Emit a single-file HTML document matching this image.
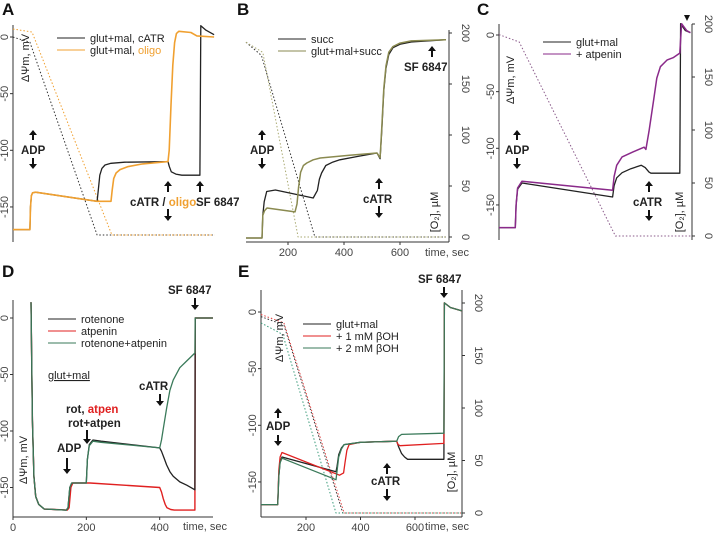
<!DOCTYPE html>
<html><head><meta charset="utf-8"><style>
body{margin:0;background:#fff}
svg{display:block;font-family:"Liberation Sans",Arial,sans-serif}
.tk{font-size:11px;fill:#444}
.lb{font-size:11px;fill:#222}
.b{font-weight:bold;font-size:11.5px;fill:#222}
.pl{font-weight:bold;font-size:17px;fill:#111}
</style></head><body>
<svg id="fig" width="716" height="536" viewBox="0 0 716 536"></svg>
<script>
// ===== Panel A data (time s, mV / µM) =====
const aBlackT=[50,106,108,111,115,125,329,333,338,345,355,375,420,564,568,575,590,610,670,673,690,717];
const aBlackV=[-170,-170,-150,-140,-137.5,-137,-145,-135,-122,-116,-113,-111.5,-110.5,-110,-114,-119,-121,-122,-122,10,6,2];
const aOrangeT=[50,106,108,111,115,125,329,375,379,384,392,405,430,480,564,568,574,580,586,592,600,640,660,717];
const aOrangeV=[-170,-170,-150,-140,-137.5,-137,-145,-145,-135,-125,-120,-117,-114.5,-112,-110,-100,-60,-25,-5,3,5,4,1,0];
const aBlackO2T=[50,106,329,717];
const aBlackO2=[194,189,0,0];
const aOrangeO2T=[50,113,378,717];
const aOrangeO2=[202,199,0,0];
// ===== Panel B =====
const bBlackT=[50,107,110,115,124,155,290,305,312,320,335,360,385,450,518,529,535,542,550,560,575,600,640,764];
const bBlackV=[-170,-170,-150,-138,-129,-127.6,-134.7,-128,-118,-112.6,-106,-103,-101,-98,-95,-100,-75,-40,-20,-8,-2,1,3,5];
const bOliveT=[50,107,110,116,125,225,232,238,245,255,267,290,315,420,518,529,535,542,550,560,575,600,640,764];
const bOliveV=[-170,-170,-150,-146,-143.5,-147,-140,-125,-112,-106,-103.8,-101,-99.4,-97,-95,-99,-72,-38,-18,-6,-1,2,4,5];
const bBlackO2T=[50,105,296,764];
const bBlackO2=[191,178,0,0];
const bOliveO2T=[50,110,236,764];
const bOliveO2=[191,181,0,0];
const bTicksX=[200,400,600];
const o2Ticks=[0,50,100,150,200];
// ===== Panel C =====
const cBlackT=[50,113,116,122,139,489,495,505,526,560,600,615,630,637,749,752,770,790];
const cBlackV=[-170,-170,-150,-136,-130.6,-143,-133,-126,-121.5,-118,-115,-117,-121,-122,-122,10,4,2];
const cPurpleT=[50,113,116,122,139,489,495,505,526,570,611,618,630,648,660,674,700,723,749,756,775,790];
const cPurpleV=[-170,-170,-150,-135,-129,-137,-125,-115,-107.6,-103,-99,-101,-85,-57,-38,-28,-22,-20,-16,10,4,2];
const cO2T=[50,128,500,790];
const cO2=[190,183,0,0];
// ===== Panel D =====
const dBlackT=[49,53,57,62,70,85,145,150,155,160,200,203,208,218,240,400,405,412,419,428,437,455,474,496,497,545];
const dBlackV=[14,-90,-140,-158,-165,-169,-170,-168,-150,-146,-146,-125,-112,-108,-109,-115,-118,-124,-130,-136,-140,-145,-148,-152,0,0];
const dRedT=[49,53,57,62,70,85,148,153,158,163,210,400,405,410,415,420,430,440,496,497,545];
const dRedV=[14,-90,-140,-158,-165,-169,-170,-168,-150,-146,-146,-150,-154,-160,-165,-168,-169.5,-170,-170,0,0];
const dGreenT=[49,53,57,62,70,85,145,150,155,160,200,203,208,218,240,400,405,410,419,428,437,455,474,496,497,545];
const dGreenV=[14,-90,-140,-158,-165,-169,-170,-168,-150,-146,-146,-125,-113,-109,-110,-115,-108,-98,-80,-64,-55,-44,-38,-31,0,0];
const dTicksX=[0,200,400];
const mvTicks=[0,-50,-100,-150];
// ===== Panel E =====
const eBlackT=[35,96,100,105,112,310,314,320,330,340,400,533,540,551,562,573,706,708,730,772];
const eBlackV=[-170,-170,-145,-132,-128,-141,-136,-126,-120,-117,-115,-114,-119,-125,-128,-130,-130,8,4,1];
const eRedT=[35,96,100,105,112,323,338,343,350,358,400,533,538,545,706,708,730,772];
const eRedV=[-170,-170,-140,-128,-124,-144,-142,-133,-122,-117,-115,-114,-117,-118,-116,8,4,1];
const eGreenT=[35,96,100,105,112,310,314,320,330,340,400,533,540,551,706,708,730,772];
const eGreenV=[-170,-170,-145,-133,-129,-148,-140,-128,-121,-117,-115,-114,-110,-108,-107,8,4,1];
const eBlackO2T=[35,119,335,772];
const eBlackO2=[187,179,0,0];
const eRedO2T=[35,119,340,772];
const eRedO2=[189,181,0,0];
const eGreenO2T=[35,115,310,772];
const eGreenO2=[181,170,0,0];

const NS="http://www.w3.org/2000/svg";
const svg=document.getElementById('fig');
function el(tag,attrs,parent){const e=document.createElementNS(NS,tag);for(const k in attrs)e.setAttribute(k,attrs[k]);(parent||svg).appendChild(e);return e;}
function series(ts,vs,X,Y,color,w,dash,name){
  const pts=ts.map((t,i)=>X(t).toFixed(1)+','+Y(vs[i]).toFixed(1)).join(' ');
  const p=el('polyline',{points:pts,fill:'none',stroke:color,'stroke-width':w,'stroke-dasharray':dash||'none','stroke-linejoin':'round'});
  
  
}
function text(x,y,s,cls,name,extra){const t=el('text',Object.assign({x:x,y:y,class:cls},extra||{}));t.textContent=s;
  
  return t;}
function rtext(x,y,s,cls,name){return text(x,y,s,cls,name,{transform:'rotate(-90 '+x+' '+y+')','text-anchor':'middle'});}
function ln(x1,y1,x2,y2,name,c){const l=el('line',{x1,y1,x2,y2,stroke:c||'#333','stroke-width':1});
  
  }
function arrow(x,y1,y2,name){
  const g=el('g',{});
  
  
  const d=y2>y1?1:-1;
  el('line',{x1:x,y1:y1,x2:x,y2:y2-d*4,stroke:'#111','stroke-width':2},g);
  el('polygon',{points:`${x-4},${y2-d*5} ${x+4},${y2-d*5} ${x},${y2}`,fill:'#111'},g);
}
function leftAxis(x,yTop,yBot,Y,ticks,name){
  ln(x,yTop,x,yBot,name);
  ticks.forEach(v=>{ln(x-3,Y(v),x,Y(v),name+'-tick');rtext(x-5,Y(v),String(v),'tk',name+'-label');});
}
function rightAxis(x,yTop,yBot,Y,ticks,name){
  ln(x,yTop,x,yBot,name);
  ticks.forEach(v=>{ln(x,Y(v),x+3,Y(v),name+'-tick');
    text(x+13,Y(v),String(v),'tk',name+'-label',{transform:'rotate(90 '+(x+13)+' '+Y(v)+')','text-anchor':'middle'});});
}
function bottomAxis(y,x1,x2,X,ticks,name){
  ln(x1,y,x2,y,name);
  ticks.forEach(t=>{ln(X(t),y,X(t),y+3,name+'-tick');text(X(t),y+14,String(t),'tk',name+'-label',{'text-anchor':'middle'});});
}
function legend(x,y,items,name){
  items.forEach((it,i)=>{ln(x,y+i*12,x+28,y+i*12,name+'-line',it[1]);
    const t=text(x+33,y+i*12+4,'','lb',name+'-entry');
    it[0].forEach(seg=>{const s=el('tspan',{fill:seg[1]||'#222'},t);s.textContent=seg[0];});});
}
// ---------- Panel A ----------
{const X=t=>13+(t-50)*202/670, Y=v=>37-1.133*v, O=c=>235-1.02*c;
 text(2,15,'A','pl','panel-a-label');
 leftAxis(13,25,242,Y,mvTicks,'a-y-axis');
 series(aBlackO2T,aBlackO2,X,O,'#333',1,'1.5,2','a-o2-black');
 series(aOrangeO2T,aOrangeO2,X,O,'#f0a030',1,'1.5,2','a-o2-orange');
 series(aBlackT,aBlackV,X,Y,'#222',1.3,null,'a-black-trace');
 series(aOrangeT,aOrangeV,X,Y,'#f0a030',1.6,null,'a-orange-trace');
 legend(57,38,[[[['glut+mal, cATR']],'#222'],[[['glut+mal, '],['oligo','#f0a030']],'#f0a030']],'a-legend');
 rtext(29,58,'ΔΨm, mV','lb','a-y-title');
 arrow(33,140,130,'a-adp-arrow-up');text(21,154,'ADP','b','a-adp-label');arrow(33,158,169,'a-adp-arrow-down');
 arrow(168,192,181,'a-catr-arrow-up');
 const t=text(130,206,'','b','a-catr-oligo-label');
 [['cATR / ','#222'],['oligo','#f0a030']].forEach(s=>{const sp=el('tspan',{fill:s[1]},t);sp.textContent=s[0];});
 arrow(168,209,221,'a-catr-arrow-down');
 arrow(200,192,181,'a-sf-arrow');text(196,206,'SF 6847','b','a-sf-label');
}
// ---------- Panel B ----------
{const X=t=>288+(t-200)*0.28, Y=v=>238-(v+170)*1.133, O=c=>237-1.02*c;
 text(237,15,'B','pl','panel-b-label');
 bottomAxis(242,246,449,X,bTicksX,'b-x-axis');
 rightAxis(449,30,242,O,o2Ticks,'b-o2-axis');
 series(bBlackO2T,bBlackO2,X,O,'#333',1,'1.5,2','b-o2-black');
 series(bOliveO2T,bOliveO2,X,O,'#a8a870',1,'1.5,2','b-o2-olive');
 series(bBlackT,bBlackV,X,Y,'#222',1.3,null,'b-succ-trace');
 series(bOliveT,bOliveV,X,Y,'#8a8a50',1.5,null,'b-gmsucc-trace');
 legend(278,39,[[[['succ']],'#222'],[[['glut+mal+succ']],'#8a8a50']],'b-legend');
 rtext(438,212,'[O₂], µM','lb','b-o2-title');
 text(425,256,'time, sec','tk','b-x-title');
 arrow(262,140,130,'b-adp-arrow-up');text(250,154,'ADP','b','b-adp-label');arrow(262,158,169,'b-adp-arrow-down');
 arrow(379,189,178,'b-catr-arrow-up');text(363,203,'cATR','b','b-catr-label');arrow(379,206,218,'b-catr-arrow-down');
 arrow(432,57,46,'b-sf-arrow');text(404,71,'SF 6847','b','b-sf-label');
}
// ---------- Panel C ----------
{const X=t=>499+(t-50)*0.2587, Y=v=>35-1.133*v, O=c=>236-1.06*c;
 text(477,15,'C','pl','panel-c-label');
 leftAxis(499,24,240,Y,mvTicks,'c-y-axis');
 rightAxis(692,24,240,O,o2Ticks,'c-o2-axis');
 series(cO2T,cO2,X,O,'#8a5a8a',1,'1.5,2','c-o2-trace');
 series(cBlackT,cBlackV,X,Y,'#222',1.3,null,'c-black-trace');
 series(cPurpleT,cPurpleV,X,Y,'#8a2a8a',1.5,null,'c-purple-trace');
 legend(543,42,[[[['glut+mal']],'#222'],[[['+ atpenin']],'#8a2a8a']],'c-legend');
 rtext(514,80,'ΔΨm, mV','lb','c-y-title');
 rtext(683,212,'[O₂], µM','lb','c-o2-title');
 arrow(517,140,130,'c-adp-arrow-up');text(505,154,'ADP','b','c-adp-label');arrow(517,158,169,'c-adp-arrow-down');
 arrow(649,192,181,'c-catr-arrow-up');text(633,206,'cATR','b','c-catr-label');arrow(649,210,221,'c-catr-arrow-down');
 const m=el('polygon',{points:'684,15 690,15 687,21',fill:'#111'});
 
 
}
// ---------- Panel D ----------
{const X=t=>13+t*0.3667, Y=v=>318-1.13*v;
 text(2,277,'D','pl','panel-d-label');
 leftAxis(13,300,517,Y,mvTicks,'d-y-axis');
 bottomAxis(517,13,213,X,dTicksX,'d-x-axis');
 series(dRedT,dRedV,X,Y,'#e02020',1.4,null,'d-atpenin-trace');
 series(dBlackT,dBlackV,X,Y,'#222',1.3,null,'d-rotenone-trace');
 series(dGreenT,dGreenV,X,Y,'#3a7a5a',1.3,null,'d-rot-atpen-trace');
 legend(48,319,[[[['rotenone']],'#222'],[[['atpenin']],'#e02020'],[[['rotenone+atpenin']],'#3a7a5a']],'d-legend');
 text(48,379,'glut+mal','lb','d-glutmal-label',{fill:'#3a3a9a','text-decoration':'underline'});
 rtext(27,460,'ΔΨm, mV','lb','d-y-title');
 text(183,530,'time, sec','tk','d-x-title');
 text(57,452,'ADP','b','d-adp-label');arrow(67,458,474,'d-adp-arrow');
 const r=text(66,413,'','b','d-rot-atpen-label');
 [['rot, ','#222'],['atpen','#e02020']].forEach(s=>{const sp=el('tspan',{fill:s[1]},r);sp.textContent=s[0];});
 text(68,427,'rot+atpen','b','d-rotatpen-label',{fill:'#3a7a5a'});
 arrow(87,430,444,'d-rot-arrow');
 text(139,390,'cATR','b','d-catr-label');arrow(160,394,406,'d-catr-arrow');
 text(168,294,'SF 6847','b','d-sf-label');arrow(195,298,310,'d-sf-arrow');
}
// ---------- Panel E ----------
{const X=t=>306+(t-200)*0.2725, Y=v=>312-1.133*v, O=c=>513-1.05*c;
 text(238,277,'E','pl','panel-e-label');
 leftAxis(261,290,517,Y,mvTicks,'e-y-axis');
 rightAxis(462,290,517,O,o2Ticks,'e-o2-axis');
 bottomAxis(517,261,462,X,bTicksX,'e-x-axis');
 series(eBlackO2T,eBlackO2,X,O,'#333',1,'1.5,2','e-o2-black');
 series(eRedO2T,eRedO2,X,O,'#e04040',1,'1.5,2','e-o2-red');
 series(eGreenO2T,eGreenO2,X,O,'#3a9a7a',1,'1.5,2','e-o2-green');
 series(eBlackT,eBlackV,X,Y,'#222',1.3,null,'e-glutmal-trace');
 series(eRedT,eRedV,X,Y,'#e02020',1.3,null,'e-1mm-trace');
 series(eGreenT,eGreenV,X,Y,'#3a7a5a',1.3,null,'e-2mm-trace');
 legend(303,324,[[[['glut+mal']],'#222'],[[['+ 1 mM βOH']],'#e02020'],[[['+ 2 mM βOH']],'#3a7a5a']],'e-legend');
 rtext(283,338,'ΔΨm, mV','lb','e-y-title');
 rtext(455,472,'[O₂], µM','lb','e-o2-title');
 text(425,530,'time, sec','tk','e-x-title');
 arrow(278,418,408,'e-adp-arrow-up');text(266,430,'ADP','b','e-adp-label');arrow(278,435,446,'e-adp-arrow-down');
 arrow(387,474,463,'e-catr-arrow-up');text(371,485,'cATR','b','e-catr-label');arrow(387,489,501,'e-catr-arrow-down');
 text(418,283,'SF 6847','b','e-sf-label');arrow(444,287,298,'e-sf-arrow');
}
</script>
</body></html>
